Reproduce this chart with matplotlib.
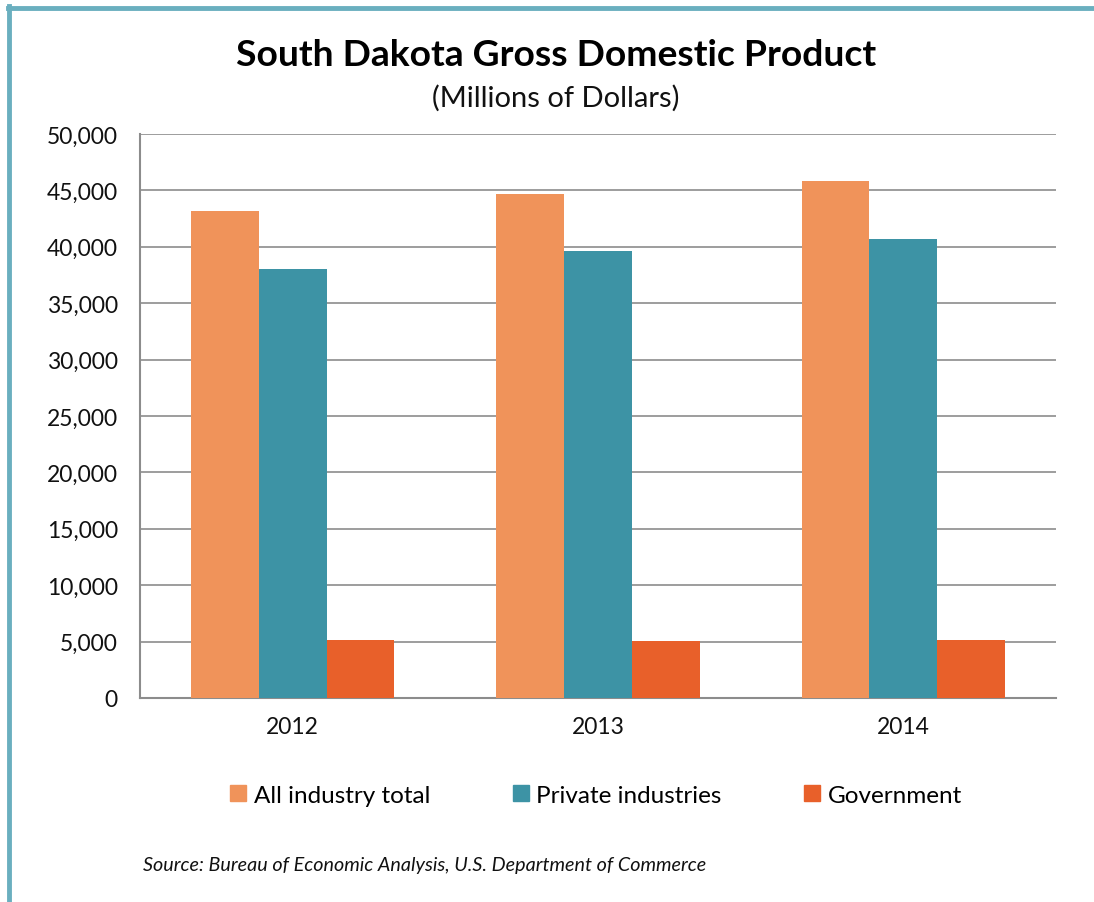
import matplotlib
matplotlib.use("Agg")
import matplotlib.pyplot as plt
import numpy as np
from matplotlib.lines import Line2D
from matplotlib.ticker import FuncFormatter

years = ["2012", "2013", "2014"]
series_names = ["All industry total", "Private industries", "Government"]
all_industry = [43200, 44700, 45800]
private_ind = [38000, 39600, 40700]
government = [5150, 5050, 5150]
yticks = [0, 5000, 10000, 15000, 20000, 25000, 30000, 35000, 40000, 45000, 50000]

colors = ["#F0935A", "#3D93A5", "#E8602A"]
FONT = "Lato"
plt.rcParams["font.family"] = [FONT, "DejaVu Sans"]

fig = plt.figure(figsize=(10.94, 9.03), dpi=100)
W, H = 1094, 903
ax = fig.add_axes([140 / W, 1 - 699 / H, (1056 - 140) / W, (699 - 135) / H])

x = np.arange(len(years))
bw = 0.222
for i, vals in enumerate([all_industry, private_ind, government]):
    ax.bar(x + (i - 1) * bw, vals, width=bw, color=colors[i], zorder=3,
           label=series_names[i])

ax.set_xlim(-0.5, 2.5)
ax.set_ylim(0, 50000)
ax.set_yticks(yticks)
ax.yaxis.set_major_formatter(FuncFormatter(lambda v, p: f"{int(v):,}"))
ax.set_xticks(x)
ax.set_xticklabels(years)
ax.tick_params(axis="both", length=0, labelsize=16.5, colors="#111111")
ax.tick_params(axis="y", pad=16)
ax.tick_params(axis="x", pad=13)
ax.grid(axis="y", color="#8C8C8C", linewidth=1.2, zorder=0)
for s in ["top", "right"]:
    ax.spines[s].set_visible(False)
for s in ["left", "bottom"]:
    ax.spines[s].set_color("#8C8C8C")
    ax.spines[s].set_linewidth(1.5)

fig.text(556 / W, 1 - 55 / H, "South Dakota Gross Domestic Product",
         ha="center", va="center", fontsize=26.8, fontweight="bold", color="#000000")
fig.text(556 / W, 1 - 98 / H, "(Millions of Dollars)",
         ha="center", va="center", fontsize=21, color="#111111")

handles = [Line2D([], [], marker="s", linestyle="none", markersize=11.5,
                  markerfacecolor=c, markeredgecolor=c) for c in colors]
fig.legend(handles, series_names, loc="center", bbox_to_anchor=(594 / W, 1 - 796 / H),
           ncol=3, frameon=False, fontsize=17.5, handletextpad=0.15, columnspacing=3.2,
           handlelength=1.0)

fig.text(143 / W, 1 - 866 / H,
         "Source: Bureau of Economic Analysis, U.S. Department of Commerce",
         ha="left", va="center", fontsize=14.2, style="italic", color="#111111")

# frame border (top and left)
border = "#6AAFBF"
fig.add_artist(Line2D([8 / W, 1.0], [1 - 8.5 / H, 1 - 8.5 / H], color=border,
                      linewidth=3.5, transform=fig.transFigure))
fig.add_artist(Line2D([8.5 / W, 8.5 / W], [0, 1 - 7 / H], color=border,
                      linewidth=3.5, transform=fig.transFigure))

fig.savefig("out.png", dpi=100, facecolor="white")
